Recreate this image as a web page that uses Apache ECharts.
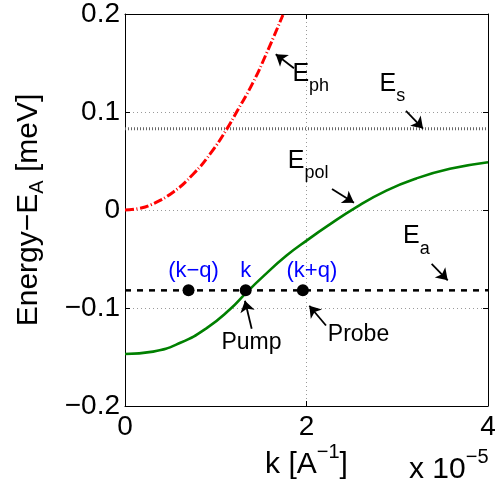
<!DOCTYPE html>
<html><head><meta charset="utf-8">
<script src="https://cdn.jsdelivr.net/npm/echarts/dist/echarts.min.js"></script>
<style>html,body{margin:0;padding:0;background:#fff}#c{width:500px;height:487px}</style>
</head><body><div id="c"></div>
<script>
// ---- data ----
const xTicks = [0, 2, 4];
const yTicks = [-0.2, -0.1, 0, 0.1, 0.2];
const phK = [0, 0.15, 0.29, 0.53, 0.75, 0.94, 1.12, 1.23, 1.41, 1.56, 1.74];
const phE = [0, 0.0015, 0.0055, 0.0182, 0.0365, 0.0575, 0.0823, 0.100, 0.130, 0.160, 0.199];
const polK = [0, 0.31, 0.61, 0.90, 1.16, 1.33, 1.52, 1.78, 2.02, 2.22, 2.55, 2.88, 3.21, 3.58, 4.0];
const polE = [-0.147, -0.1445, -0.1355, -0.1205, -0.1010, -0.0850, -0.0680, -0.0465, -0.0300, -0.0170, 0.0030, 0.0198, 0.0322, 0.0420, 0.0488];
const Es = 0.083;
const Ea = -0.082;
const dotK = [0.70, 1.33, 1.96];
const dotLabels = ['(k\u2212q)', 'k', '(k+q)'];
// annotation anchors (data coords)
const subLabelText = ['{b|E}{s|ph}', '{b|E}{s|s}', '{b|E}{s|pol}', '{b|E}{s|a}'];
const subLabelK = [1.85, 2.81, 1.80, 3.07];
const subLabelE = [0.1512, 0.1411, 0.0624, -0.0145];
const plainLabelText = ['Pump', 'Probe'];
const plainLabelK = [1.394, 2.573];
const plainLabelE = [-0.1351, -0.1268];
const arrowFrom = [[1.862, 0.1447], [3.096, 0.1012], [2.281, 0.0215], [3.379, -0.0549], [1.396, -0.1212], [2.215, -0.1179]];
const arrowTo   = [[1.661, 0.1589], [3.284, 0.0831], [2.523, 0.0074], [3.556, -0.0717], [1.322, -0.0926], [2.031, -0.0977]];

const FONT = 'Liberation Sans';
const xMin = xTicks[0], xMax = xTicks[xTicks.length - 1];
const yMin = yTicks[0], yMax = yTicks[yTicks.length - 1];

const chart = echarts.init(document.getElementById('c'), null, {renderer: 'canvas'});

const richSub = {
  b: {fontSize: 25, fontFamily: FONT, color: '#000', verticalAlign: 'top'},
  s: {fontSize: 18, fontFamily: FONT, color: '#000', verticalAlign: 'top', padding: [16, 0, 0, 0]}
};

function yFmt(v) {
  if (Math.abs(v) < 1e-9) return '0';
  return (v < 0 ? '\u2212' : '') + Math.abs(v).toFixed(1);
}

const axisLineStyle = {show: true, onZero: false, lineStyle: {color: '#000', width: 1}};
const tickStyle = {show: true, inside: true, length: 5, lineStyle: {color: '#000', width: 1}};
const gridStyle = {show: true, lineStyle: {color: '#9a9a9a', width: 1, type: [1, 3]}};

const option = {
  animation: false,
  textStyle: {fontFamily: FONT},
  grid: {left: 125, right: 12, top: 10, bottom: 81},
  xAxis: [{
    type: 'value', min: xMin, max: xMax, interval: 2,
    axisLine: axisLineStyle, axisTick: tickStyle, splitLine: gridStyle,
    axisLabel: {fontSize: 28, fontFamily: FONT, color: '#000', margin: 7},
    name: '{n|k [A}{p|\u22121}{n|]}',
    nameLocation: 'middle', nameGap: 36, nameMoveOverlap: false,
    nameTextStyle: {rich: {
      n: {fontSize: 30, fontFamily: FONT, color: '#000', verticalAlign: 'top', padding: [8, 0, 0, 0]},
      p: {fontSize: 20, fontFamily: FONT, color: '#000', verticalAlign: 'top'}
    }}
  }, {
    type: 'value', position: 'top', min: xMin, max: xMax, interval: 2,
    axisLine: axisLineStyle, axisTick: tickStyle, splitLine: {show: false},
    axisLabel: {show: false}
  }],
  yAxis: [{
    type: 'value', min: yMin, max: yMax, interval: 0.1,
    axisLine: axisLineStyle, axisTick: tickStyle, splitLine: gridStyle,
    axisLabel: {fontSize: 28, fontFamily: FONT, color: '#000', margin: 5, formatter: yFmt},
    name: '{n|Energy\u2212E}{s|A}{n| [meV]}',
    nameLocation: 'middle', nameGap: 78, nameMoveOverlap: false,
    nameTextStyle: {rich: {
      n: {fontSize: 30, fontFamily: FONT, color: '#000', verticalAlign: 'top'},
      s: {fontSize: 20, fontFamily: FONT, color: '#000', verticalAlign: 'top', padding: [13, 0, 0, 0]}
    }}
  }, {
    type: 'value', position: 'right', min: yMin, max: yMax, interval: 0.1,
    axisLine: axisLineStyle, axisTick: tickStyle, splitLine: {show: false},
    axisLabel: {show: false}
  }],
  graphic: [{
    type: 'text', left: 409, top: 447,
    style: {
      text: '{n|x 10}{p|\u22125}',
      rich: {
        n: {fontSize: 30, fontFamily: FONT, fill: '#000', verticalAlign: 'top', padding: [8, 0, 0, 0]},
        p: {fontSize: 20, fontFamily: FONT, fill: '#000', verticalAlign: 'top'}
      }
    }
  }],
  series: [
    {
      type: 'line', name: 'Eph', data: phK.map((k, i) => [k, phE[i]]),
      smooth: 0.5, showSymbol: false, symbol: 'none', clip: true,
      lineStyle: {color: '#ff0000', width: 3, type: [9, 2.5, 1, 2.5]}, z: 3
    },
    {
      type: 'line', name: 'Epol', data: polK.map((k, i) => [k, polE[i]]),
      smooth: 0.5, showSymbol: false, symbol: 'none',
      lineStyle: {color: '#008000', width: 2.6}, z: 3
    },
    {
      type: 'line', name: 'Es', data: [[xMin, Es], [xMax, Es]], showSymbol: false, symbol: 'none',
      lineStyle: {color: '#666', width: 3, type: [1, 2]}, z: 2
    },
    {
      type: 'line', name: 'Ea', data: [[xMin, Ea], [xMax, Ea]], showSymbol: false, symbol: 'none',
      lineStyle: {color: '#000', width: 2.5, type: [6, 6]}, z: 2
    },
    {
      type: 'scatter', name: 'dots', symbol: 'circle', symbolSize: 12,
      itemStyle: {color: '#000', opacity: 1}, z: 5,
      data: dotK.map((k, i) => ({
        value: [k, Ea],
        label: {show: true, position: 'top', distance: 2, formatter: dotLabels[i],
          offset: [[5, 0], [0, 0], [9, 0]][i],
          fontSize: 22, fontFamily: FONT, color: '#0000ff', opacity: 1}
      }))
    },
    {
      type: 'lines', coordinateSystem: 'cartesian2d', name: 'arrows',
      symbol: ['none', 'arrow'], symbolSize: 11,
      lineStyle: {color: '#000', width: 1.8, opacity: 1, curveness: 0},
      z: 6,
      data: arrowFrom.map((f, i) => ({coords: [f, arrowTo[i]]}))
    },
    {
      type: 'scatter', name: 'subLabels', symbolSize: 1,
      itemStyle: {color: 'rgba(0,0,0,0)', opacity: 1}, z: 7, silent: true,
      data: subLabelK.map((k, i) => ({
        value: [k, subLabelE[i]],
        label: {show: true, position: [0, 0], align: 'left', verticalAlign: 'top',
          formatter: subLabelText[i], rich: richSub, opacity: 1}
      }))
    },
    {
      type: 'scatter', name: 'plainLabels', symbolSize: 1,
      itemStyle: {color: 'rgba(0,0,0,0)', opacity: 1}, z: 7, silent: true,
      data: plainLabelK.map((k, i) => ({
        value: [k, plainLabelE[i]],
        label: {show: true, position: 'inside', align: 'center', verticalAlign: 'middle',
          formatter: plainLabelText[i], fontSize: 23, fontFamily: FONT, color: '#000', opacity: 1}
      }))
    }
  ]
};
chart.setOption(option);
</script>
</body></html>
